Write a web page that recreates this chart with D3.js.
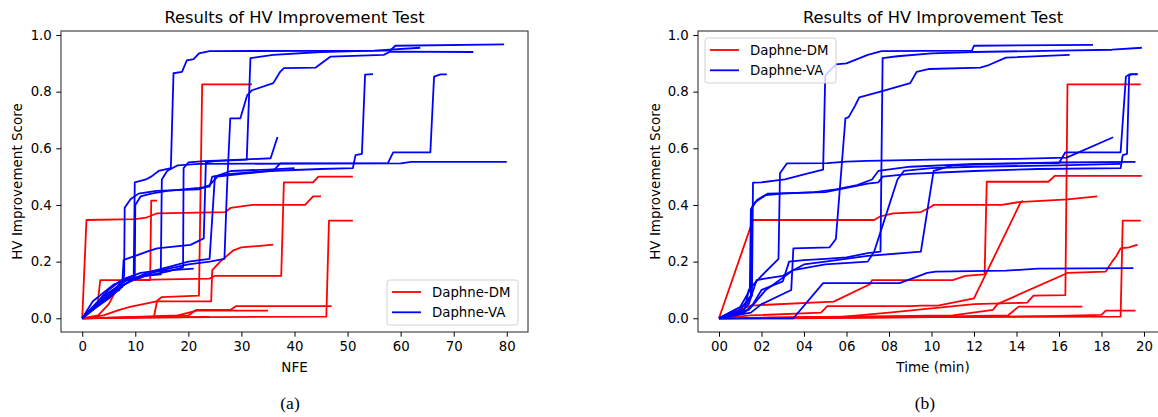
<!DOCTYPE html>
<html>
<head>
<meta charset="utf-8">
<script src="https://cdn.jsdelivr.net/npm/d3@7"></script>
<style>
  body { margin: 0; background: #fff; }
  svg text { font-family: "DejaVu Sans", sans-serif; fill: #000; }
</style>
</head>
<body>
<svg id="chart" width="1158" height="417"></svg>
<script>
// ---- data: each run is a list of [x, score] points ----
var yTicks = [0, 0.2, 0.4, 0.6, 0.8, 1.0];
var nfeTicks = [0, 10, 20, 30, 40, 50, 60, 70, 80];
var timeTicks = [0, 2, 4, 6, 8, 10, 12, 14, 16, 18, 20];
var seriesNames = ['Daphne-DM', 'Daphne-VA'];

// (a) score vs NFE
var dmNfe = [
  [[0,0],[0.8,0.347],[10,0.35],[12,0.355],[14,0.37],[27,0.375],[28,0.39],[32,0.40],[42,0.40],[43.5,0.43],[45,0.43]],
  [[0,0],[3,0.01],[5,0.05],[7,0.12],[8,0.135],[24,0.14],[25,0.15],[37.5,0.15],[38,0.48],[43.5,0.48],[44.5,0.50],[51,0.50]],
  [[0,0],[10,0.002],[25,0.004],[46,0.006],[46.5,0.345],[51,0.345]],
  [[0,0],[10,0.003],[20,0.01],[21.5,0.03],[28,0.03],[29,0.043],[47,0.043]],
  [[0,0],[4,0.01],[7,0.03],[9,0.04],[14,0.06],[15,0.075],[22,0.08],[22.6,0.826],[32,0.826]],
  [[0,0],[13.5,0.005],[14.1,0.06],[24.3,0.06],[24.5,0.17],[26,0.2],[28.5,0.24],[30,0.25],[33,0.255],[36,0.26]],
  [[0,0],[2.9,0.05],[3.4,0.135],[12.8,0.135],[13,0.415],[14.1,0.415]],
  [[0,0],[10,0.005],[18,0.01],[21.6,0.027],[35,0.027]],
  [[0,0],[15,0.003],[24,0.005]]
];
var vaNfe = [
  [[0,0],[1,0.02],[3,0.06],[5,0.1],[7,0.13],[9.7,0.15],[9.9,0.48],[12,0.49],[13,0.50],[14.4,0.52],[16.7,0.53],[17.2,0.865],[18.8,0.87],[19.7,0.91],[21,0.915],[22,0.935],[24,0.943],[58,0.945],[59,0.962],[79.5,0.967]],
  [[0,0],[2,0.03],[4,0.06],[6,0.09],[7.5,0.11],[7.8,0.206],[10,0.22],[12.2,0.235],[14.1,0.247],[20.4,0.259],[22.9,0.282],[23.3,0.55],[25,0.555],[31,0.56],[31.7,0.918],[36,0.93],[45,0.94],[55,0.945],[63.7,0.955]],
  [[0,0],[3,0.05],[6,0.1],[8,0.14],[11,0.16],[15,0.17],[20,0.19],[24,0.2],[26.8,0.21],[27.3,0.47],[27.9,0.706],[29.8,0.706],[31.1,0.788],[32,0.805],[36,0.83],[37.3,0.87],[38,0.883],[44,0.885],[46.8,0.924],[56.8,0.93],[58,0.941],[73.7,0.94]],
  [[0,0],[2,0.04],[4,0.08],[6,0.1],[9,0.13],[12,0.15],[16,0.165],[19,0.18],[19.1,0.53],[20,0.55],[23,0.555],[30,0.56],[35.5,0.565],[36.8,0.64]],
  [[0,0],[2,0.03],[5,0.08],[8,0.12],[9.9,0.14],[10,0.40],[11,0.43],[13,0.44],[16,0.45],[22,0.46],[24,0.465],[24.5,0.50],[28,0.51],[35,0.52],[45,0.527],[51,0.53],[51.5,0.576],[52.7,0.58],[53.3,0.86],[54.8,0.862]],
  [[0,0],[2,0.04],[4,0.07],[7,0.1],[7.9,0.15],[8,0.39],[9.1,0.42],[10.6,0.44],[14,0.45],[22,0.455],[24,0.47],[25.5,0.50],[30,0.51],[36,0.52],[37.3,0.547],[57.6,0.548],[58.6,0.586],[65.6,0.586],[66.3,0.853],[67.5,0.861],[68.7,0.861]],
  [[0,0],[2,0.06],[4,0.09],[6,0.12],[9,0.14],[12,0.15],[14.8,0.155],[15,0.49],[16,0.52],[18,0.54],[22,0.545],[40,0.546],[60,0.547],[62,0.552],[80,0.552]],
  [[0,0],[1,0.02],[3,0.05],[5,0.09],[8,0.13],[11,0.15],[14,0.165],[17,0.17],[21,0.175]],
  [[0,0],[2,0.03],[5,0.07],[8,0.12],[12,0.16],[16,0.18],[20,0.2],[24,0.21],[25,0.5],[28,0.52],[35,0.525],[40,0.53]]
];

// (b) score vs time (min)
var dmTime = [
  [[0,0],[1.6,0.347],[7.3,0.347],[7.6,0.36],[8.2,0.37],[9.5,0.375],[9.9,0.39],[10.1,0.40],[13.3,0.40],[14.1,0.41],[16.4,0.42],[17.8,0.43]],
  [[0,0],[1.5,0.045],[5.4,0.059],[7.1,0.12],[7.2,0.135],[11,0.135],[11.6,0.15],[12.5,0.155],[12.6,0.482],[15.5,0.482],[15.8,0.503],[19.9,0.503]],
  [[0,0],[3.5,0],[10,0.004],[18.9,0.006],[19,0.345],[19.85,0.345]],
  [[0,0],[4,0.003],[10,0.006],[13.6,0.01],[14.1,0.041],[17.1,0.041]],
  [[0,0],[5.5,0.003],[8,0.02],[12,0.05],[14.5,0.055],[14.8,0.08],[16.3,0.082],[16.4,0.826],[19.85,0.826]],
  [[0,0],[3,0.003],[11,0.01],[12.9,0.03],[13.1,0.05],[16.4,0.16],[18.2,0.165],[18.5,0.2],[18.7,0.22],[18.9,0.247],[19.3,0.25],[19.7,0.26]],
  [[0,0],[1.5,0.01],[4.8,0.02],[5.1,0.043],[9,0.043],[9.5,0.045],[10.3,0.045],[12,0.07],[14.2,0.41],[14.3,0.415]],
  [[0,0],[5,0.002],[12,0.005],[16,0.008],[18,0.012],[18.2,0.027],[19.6,0.027]],
  [[0,0],[6,0.003],[11.8,0.005]]
];
var vaTime = [
  [[0,0],[0.5,0.02],[1.3,0.05],[1.55,0.08],[1.6,0.479],[2,0.48],[3.1,0.49],[4.1,0.51],[4.9,0.525],[5,0.855],[5.1,0.865],[5.5,0.896],[6,0.9],[7,0.93],[7.65,0.943],[11.9,0.945],[12,0.962],[17.6,0.965]],
  [[0,0],[1.2,0.02],[1.6,0.05],[2,0.1],[3,0.13],[3.3,0.2],[4,0.205],[5,0.21],[6,0.215],[7,0.23],[7.6,0.235],[7.65,0.576],[7.7,0.918],[8.4,0.925],[10,0.935],[12,0.94],[16,0.945],[18.5,0.948],[19.9,0.955]],
  [[0,0],[1.5,0.02],[2,0.05],[3.4,0.1],[3.5,0.247],[5.2,0.25],[5.5,0.28],[5.95,0.706],[6.1,0.71],[6.4,0.75],[6.6,0.78],[7.6,0.80],[9,0.83],[9.3,0.87],[9.9,0.88],[12.3,0.885],[12.7,0.894],[13.5,0.92],[16.5,0.93]],
  [[0,0],[1.2,0.03],[1.4,0.1],[2,0.15],[2.8,0.21],[2.87,0.512],[3.2,0.547],[5.1,0.548],[6,0.553],[7,0.556],[10,0.56],[14,0.563],[16.36,0.567],[18.55,0.639]],
  [[0,0],[1,0.03],[1.5,0.08],[1.55,0.39],[1.8,0.418],[2.3,0.44],[5,0.445],[6,0.46],[7,0.475],[7.5,0.48],[7.7,0.50],[9,0.51],[12,0.52],[15,0.527],[18.9,0.53],[19,0.576],[19.2,0.58],[19.3,0.855],[19.4,0.862],[19.7,0.862]],
  [[0,0],[1,0.04],[1.45,0.1],[1.5,0.385],[1.7,0.41],[2.2,0.435],[3,0.44],[4.5,0.445],[5.5,0.455],[6.5,0.47],[7.2,0.49],[7.5,0.52],[9,0.535],[12,0.545],[16,0.548],[16.3,0.586],[18.9,0.586],[19.15,0.853],[19.3,0.861],[19.7,0.861]],
  [[0,0],[1,0.02],[1.4,0.05],[1.77,0.135],[2.16,0.14],[3,0.15],[4,0.19],[5,0.2],[7,0.22],[9.5,0.235],[10.1,0.52],[11,0.54],[13,0.545],[16,0.55],[19.6,0.552]],
  [[0,0],[3.5,0],[4.9,0.124],[8.5,0.124],[9.8,0.16],[10.2,0.165],[13.5,0.168],[15,0.175],[19.5,0.177]],
  [[0,0],[1.4,0.03],[2.2,0.1],[3.5,0.17],[5,0.19],[7,0.2],[7.3,0.235],[8.4,0.49],[8.7,0.52],[10,0.53],[12,0.535],[16,0.54],[18.9,0.545]]
];

var colors = { dm: '#ff0000', va: '#0000ff' };
var svg = d3.select('#chart');

function drawPanel(cfg) {
  var left = cfg.range[0], right = cfg.range[1], top = 31, bottom = 332;
  var x = d3.scaleLinear().domain(cfg.domain).range(cfg.range);
  var y = d3.scaleLinear().domain([-0.0484, 1.0141]).range([bottom, top]);
  var g = svg.append('g');

  var clipId = 'clip' + cfg.id;
  svg.append('clipPath').attr('id', clipId).append('rect')
    .attr('x', left).attr('y', top).attr('width', right - left).attr('height', bottom - top);

  var line = d3.line().x(function(d){ return x(d[0]); }).y(function(d){ return y(d[1]); });
  var plot = g.append('g').attr('clip-path', 'url(#' + clipId + ')');
  plot.selectAll('.dm').data(cfg.dm).enter().append('path')
    .attr('d', line).attr('fill', 'none').attr('stroke', colors.dm)
    .attr('stroke-width', 1.8).attr('stroke-linejoin', 'round');
  plot.selectAll('.va').data(cfg.va).enter().append('path')
    .attr('d', line).attr('fill', 'none').attr('stroke', colors.va)
    .attr('stroke-width', 1.8).attr('stroke-linejoin', 'round');

  //Frame
  g.append('rect').attr('x', left).attr('y', top).attr('width', right - left).attr('height', bottom - top)
    .attr('fill', 'none').attr('stroke', '#222').attr('stroke-width', 1);

  //Axes
  var xAxis = d3.axisBottom(x).tickValues(cfg.ticks).tickFormat(cfg.fmt).tickSize(4.7).tickSizeOuter(0).tickPadding(4.5);
  var gx = g.append('g').attr('transform', 'translate(0,' + bottom + ')').call(xAxis);
  var yAxis = d3.axisLeft(y).tickValues(yTicks).tickFormat(d3.format('.1f')).tickSize(4.7).tickSizeOuter(0).tickPadding(4.5);
  var gy = g.append('g').attr('transform', 'translate(' + left + ',0)').call(yAxis);
  [gx, gy].forEach(function(a){
    a.select('.domain').remove();
    a.attr('font-family', null).attr('font-size', null);
    a.selectAll('text').style('font-size', '13.3px');
    a.selectAll('line').attr('stroke', '#000');
  });

  var cx = (left + right) / 2;
  g.append('text').attr('x', cx).attr('y', 23).attr('text-anchor', 'middle')
    .style('font-size', '16.3px').text('Results of HV Improvement Test');
  g.append('text').attr('x', cx).attr('y', 372).attr('text-anchor', 'middle')
    .style('font-size', '13.5px').text(cfg.xLabel);
  g.append('text').attr('transform', 'translate(' + cfg.yLabelX + ',' + ((top + bottom) / 2) + ') rotate(-90)')
    .attr('text-anchor', 'middle').attr('dy', '0.35em').style('font-size', '13.5px').text('HV Improvement Score');
  g.append('text').attr('x', cfg.capX).attr('y', 409).attr('text-anchor', 'middle')
    .style('font-family', '"Liberation Serif", serif').style('font-size', '17.5px').text(cfg.caption);

  //Legend
  var lg = g.append('g').attr('transform', 'translate(' + cfg.legend[0] + ',' + cfg.legend[1] + ')');
  lg.append('rect').attr('width', 131).attr('height', 45).attr('rx', 2.5)
    .attr('fill', '#fff').attr('fill-opacity', 0.8).attr('stroke', '#d0d0d0');
  seriesNames.forEach(function(name, i){
    var yy = 12 + i * 20.3;
    lg.append('line').attr('x1', 5).attr('x2', 34).attr('y1', yy).attr('y2', yy)
      .attr('stroke', i ? colors.va : colors.dm).attr('stroke-width', 1.8);
    lg.append('text').attr('x', 45).attr('y', yy).attr('dy', '0.36em').style('font-size', '13.3px').text(name);
  });
}

drawPanel({ id: 'a', domain: [-4, 84], range: [61, 528], ticks: nfeTicks, fmt: d3.format('d'),
  dm: dmNfe, va: vaNfe, xLabel: 'NFE', yLabelX: 17, caption: '(a)', capX: 290, legend: [387, 280] });
drawPanel({ id: 'b', domain: [-0.988, 21.13], range: [698, 1168], ticks: timeTicks, fmt: d3.format('02d'),
  dm: dmTime, va: vaTime, xLabel: 'Time (min)', yLabelX: 655, caption: '(b)', capX: 925, legend: [705, 38] });
</script>
</body>
</html>
